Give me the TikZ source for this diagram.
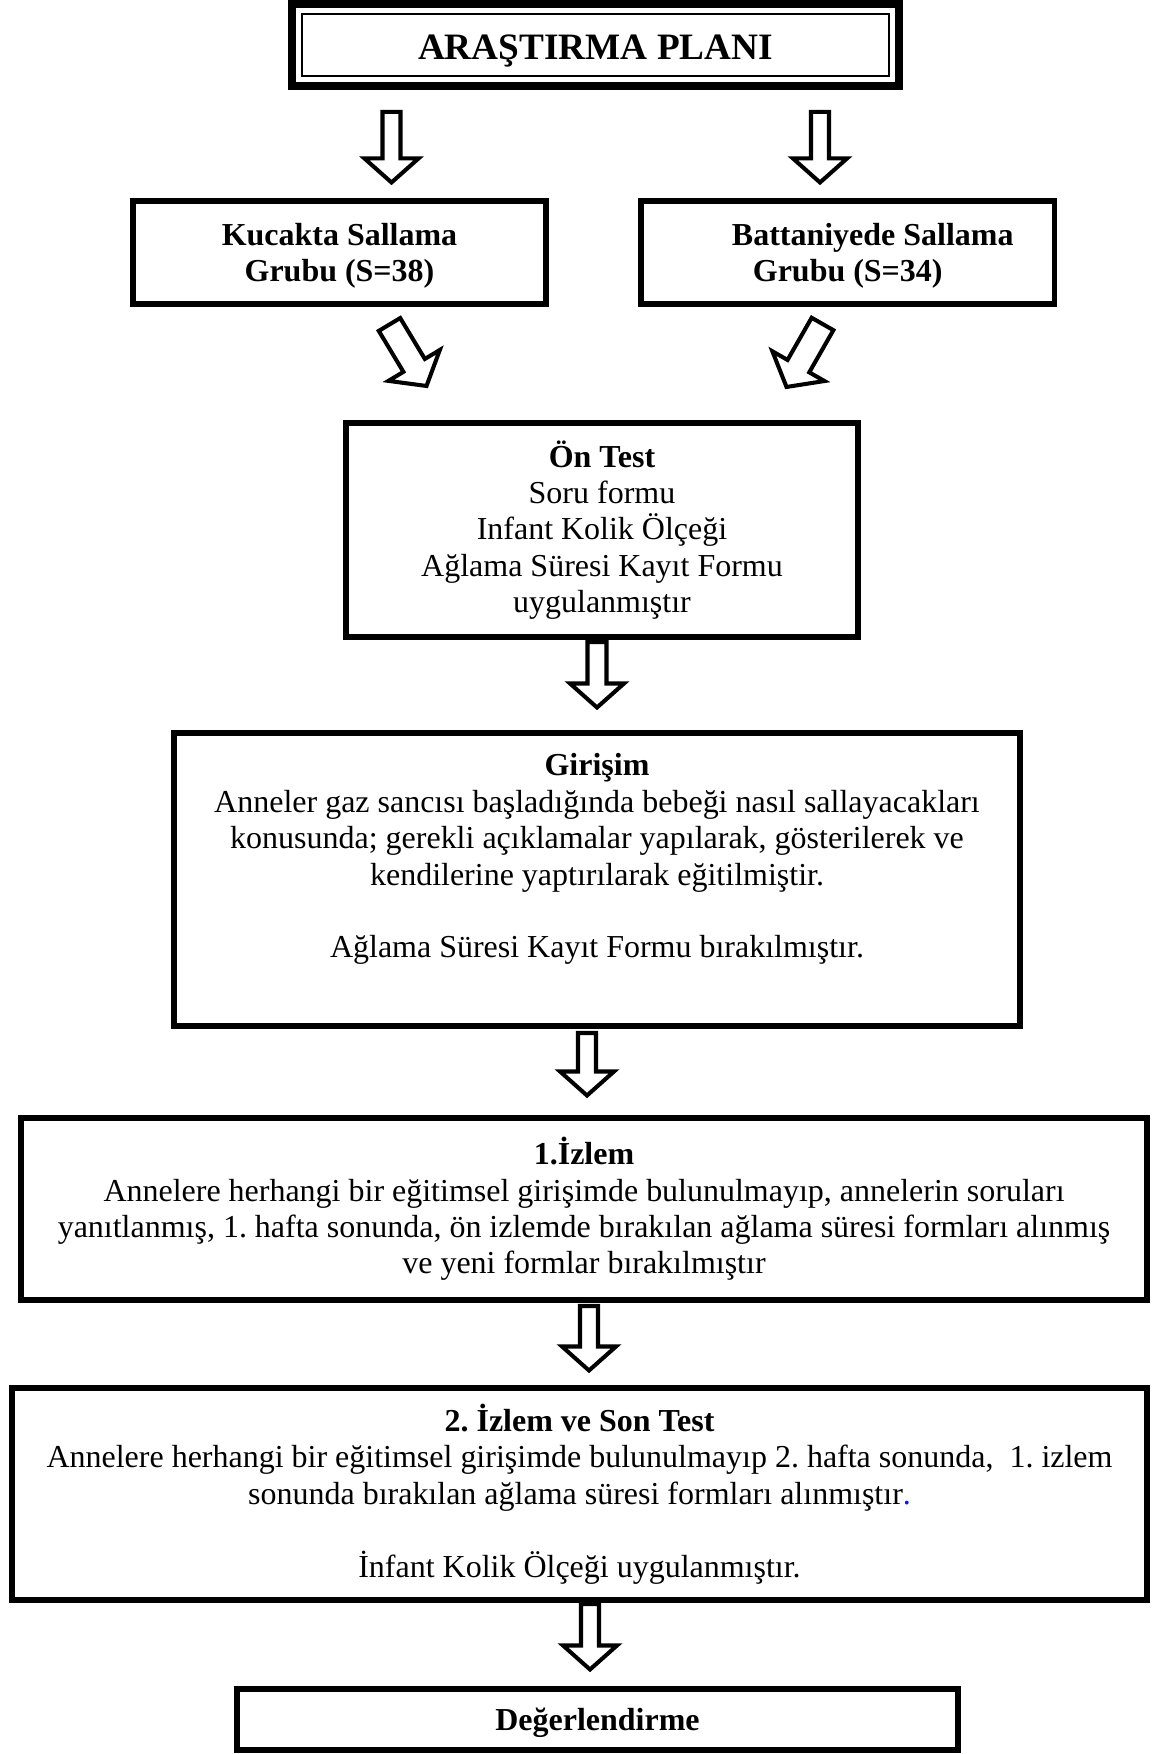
\documentclass[tikz,border=0pt]{standalone}
\usepackage{fontspec}
\setmainfont{Liberation Serif}
\usepackage{xcolor}
\usepackage{tikz}
\usetikzlibrary{calc,positioning}
\definecolor{cLine}{HTML}{000000}
\definecolor{cDot}{HTML}{1010F0}
\newcommand{\txtsize}{\fontsize{18.2pt}{20.7pt}\selectfont}
\newcommand{\ttlsize}{\fontsize{21.2pt}{24pt}\selectfont}
\tikzset{
  box/.style   = {rectangle, draw=cLine, line width=3pt, align=center,
                  font=\txtsize, inner sep=4pt},
  hbox/.style  = {box, font=\txtsize\bfseries, text depth=0pt},
  tbox/.style  = {box, line width=4.5pt, font=\ttlsize\bfseries,
                  text height=0.6cm, text depth=0pt},
  inln/.style  = {draw=cLine, line width=1.1pt},
  holo/.style  = {draw=cLine, line width=2.3pt, fill=white, line join=miter},
}
% hollow block arrow: shaft half width, head half width, tail, tip
\newcommand{\holarrow}[4]{%
  \coordinate (hb) at ($(#4)!0.48cm!(#3)$);
  \draw[holo] ($(#3)!#1cm!90:(#4)$) -- ($(hb)!#1cm!90:(#4)$)
    -- ($(hb)!#2cm!90:(#4)$) -- (#4) -- ($(hb)!#2cm!-90:(#4)$)
    -- ($(hb)!#1cm!-90:(#4)$) -- ($(#3)!#1cm!-90:(#4)$) -- cycle;}

\begin{document}
\frenchspacing
\begin{tikzpicture}
      \useasboundingbox (0,0) rectangle (23.06,35.08);

      % ---- title ----
      \node[tbox, minimum width=12.14cm, minimum height=1.64cm] (plan) at (11.91,34.18)
        {ARAŞTIRMA PLANI};
      \draw[inln] ([shift={(0.28,-0.28)}]plan.north west) rectangle ([shift={(-0.28,0.28)}]plan.south east);

      % ---- the two groups ----
      \node[hbox, minimum width=8.26cm, minimum height=2.06cm] (kuc) at (6.79,30.03)
        {Kucakta Sallama\\Grubu (S=38)};
      \node[hbox, minimum width=8.27cm, minimum height=2.06cm] (bat) at (16.955,30.03)
        {\hspace*{1cm}Battaniyede Sallama\\Grubu (S=34)};

      % ---- steps ----
      \node[box, minimum width=10.24cm, minimum height=4.28cm] (ontest) at (12.04,24.48)
        {\textbf{Ön Test}\\Soru formu\\Infant Kolik Ölçeği\\Ağlama Süresi Kayıt Formu\\uygulanmıştır};
      \node[box, minimum width=16.92cm, minimum height=5.86cm] (giris) at (11.94,17.49)
        {\textbf{Girişim}\\
         Anneler gaz sancısı başladığında bebeği nasıl sallayacakları\\
         konusunda; gerekli açıklamalar yapılarak, gösterilerek ve\\
         kendilerine yaptırılarak eğitilmiştir.\\[20.7pt]
         Ağlama Süresi Kayıt Formu bırakılmıştır.\\\strut};
      \node[box, minimum width=22.52cm, minimum height=3.64cm] (izl1) at (11.68,10.90)
        {\textbf{1.İzlem}\\
         Annelere herhangi bir eğitimsel girişimde bulunulmayıp, annelerin soruları\\
         yanıtlanmış, 1. hafta sonunda, ön izlemde bırakılan ağlama süresi formları alınmış\\
         ve yeni formlar bırakılmıştır};
      \node[box, minimum width=22.7cm, minimum height=4.24cm] (izl2) at (11.59,5.20)
        {\textbf{2. İzlem ve Son Test}\\
         Annelere herhangi bir eğitimsel girişimde bulunulmayıp 2. hafta sonunda,\ \ 1. izlem\\
         sonunda bırakılan ağlama süresi formları alınmıştır\textcolor{cDot}{.}\\[20.7pt]
         İnfant Kolik Ölçeği uygulanmıştır.};
      \node[hbox, minimum width=14.42cm, minimum height=1.22cm] (deg) at (11.95,0.69)
        {Değerlendirme};

      % ---- block arrows ----
      \coordinate (a0t) at (7.83,32.84);  \coordinate (a0h) at (7.83,31.43);
      \coordinate (b0t) at (16.40,32.84); \coordinate (b0h) at (16.40,31.43);
      \coordinate (a1t) at (7.79,28.59);  \coordinate (a1h) at (8.53,27.36);
      \coordinate (b1t) at (16.45,28.60); \coordinate (b1h) at (15.73,27.34);
      \coordinate (c1t) at (11.94,22.24); \coordinate (c1h) at (11.94,20.93);
      \coordinate (c2t) at (11.74,14.42); \coordinate (c2h) at (11.74,13.17);
      \coordinate (c3t) at (11.78,8.96);  \coordinate (c3h) at (11.78,7.67);
      \coordinate (c4t) at (11.80,3.00);  \coordinate (c4h) at (11.80,1.69);
      \holarrow{0.18}{0.54}{a0t}{a0h}
      \holarrow{0.18}{0.54}{b0t}{b0h}
      \holarrow{0.25}{0.60}{a1t}{a1h}
      \holarrow{0.25}{0.60}{b1t}{b1h}
      \holarrow{0.19}{0.54}{c1t}{c1h}
      \holarrow{0.18}{0.54}{c2t}{c2h}
      \holarrow{0.18}{0.54}{c3t}{c3h}
      \holarrow{0.18}{0.54}{c4t}{c4h}
\end{tikzpicture}
\end{document}
